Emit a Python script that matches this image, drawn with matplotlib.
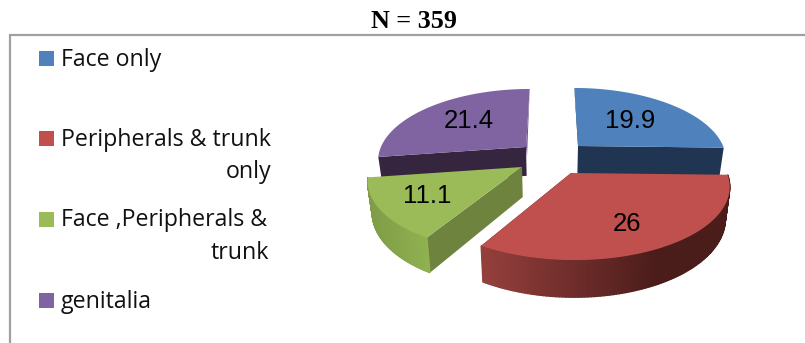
import numpy as np
import matplotlib
matplotlib.use('Agg')
import matplotlib.pyplot as plt
from matplotlib.patches import Rectangle
from matplotlib.colors import to_rgb

title = 'N = 359'
labels = ['Face only', 'Peripherals & trunk\nonly', 'Face ,Peripherals &\ntrunk', 'genitalia']
values = [19.9, 26, 11.1, 21.4]

top_colors = ['#4f81bd', '#c0504d', '#9bbb59', '#8064a2']
cut_colors = ['#1f3552', '#4a1d1b', '#6d833e', '#36253f']
wall_left = ['#1f3552', '#96403d', '#7f9d46', '#36253f']
wall_right = ['#1f3552', '#4a1c1a', '#90b151', '#36253f']

# apex of each exploded slice on the canvas, and its size factor
apex_x = [578, 571, 522, 526]
apex_y = [146, 173, 167, 147]
scale = [0.93, 1.0, 0.97, 0.93]
label_x = [630, 627, 427, 469]
label_y = [121, 224, 196, 121]
legend_y = [58, 138, 219, 300]

RX, RY = 156.0, 72.7
K = 0.165
DEPTH = 31.0
VX = 552.0


def project(i, theta, bottom=False):
    # clockwise angle from the back of the pie, with simple perspective
    u = np.sin(theta)
    v = np.cos(theta)
    w = 1 + K * v
    x = VX + (apex_x[i] - VX + scale[i] * RX * u) / w
    y = apex_y[i] - scale[i] * RY * v / w
    if bottom:
        x = VX + (x - VX) * 0.975
        y = y + scale[i] * DEPTH / w
    return x, y


def apex(i, bottom=False):
    if bottom:
        return VX + (apex_x[i] - VX) * 0.975, apex_y[i] + scale[i] * DEPTH
    return apex_x[i], apex_y[i]


def mix(a, b, t):
    a = np.array(to_rgb(a))
    b = np.array(to_rgb(b))
    return tuple(a + (b - a) * t)


fig = plt.figure(figsize=(8.05, 3.43), dpi=100)
ax = fig.add_axes([0, 0, 1, 1])
ax.set_xlim(0, 805)
ax.set_ylim(343, 0)
ax.axis('off')

# frame, open on the right and bottom
ax.plot([9.5, 9.5, 805], [343, 34.5, 34.5], color='#a0a0a0', lw=1.6, solid_joinstyle='miter')

ax.text(414, 22, title, family='Liberation Serif', weight='bold', fontsize=18.8, ha='center', va='center')

# legend
for lab, col, y in zip(labels, top_colors, legend_y):
    ax.add_patch(Rectangle((39, y - 7.5), 15, 15, fc=col, ec='none'))
    parts = lab.split('\n')
    ax.text(61, y + 1.5, parts[0], family='Open Sans', fontsize=16.7, ha='left', va='center', color='#111111')
    if len(parts) > 1:
        right = 271 if parts[1] == 'only' else 269
        ax.text(right, y + 34, parts[1], family='Open Sans', fontsize=16.7, ha='right', va='center', color='#111111')

# slice angles come from the values, clockwise from the back
total = sum(values)
edges = np.radians(np.concatenate([[0], np.cumsum(values)]) / total * 360)

for i in [3, 0, 2, 1]:
    t0, t1 = edges[i], edges[i + 1]
    ts = np.linspace(t0, t1, 120)
    z = 2 + [3, 0, 2, 1].index(i)

    # cut face that looks at the viewer
    cut_t = t1 if i in (0, 1) else t0

    a_top = apex(i)
    a_bot = apex(i, True)
    p_top = project(i, cut_t)
    p_bot = project(i, cut_t, True)
    ax.fill([a_top[0], p_top[0], p_bot[0], a_bot[0]], [a_top[1], p_top[1], p_bot[1], a_bot[1]],
            color=cut_colors[i], lw=0, zorder=z)

    # thin inner wall on the slices next to the back gap
    if i == 0:
        p_top2 = project(i, t0)
        ax.fill([a_top[0], p_top2[0], a_top[0] + 2], [a_top[1], p_top2[1], a_top[1] + 10],
                color=cut_colors[i], lw=0, zorder=z)
    if i == 3:
        p_top2 = project(i, t1)
        ax.fill([a_top[0], p_top2[0], a_top[0] + 1], [a_top[1], p_top2[1], a_top[1] + 10],
                color='#6a5388', lw=0, zorder=z)

    # outer wall as narrow quads so the shading can change along it
    front = ts[np.cos(ts) < 0.05]
    if i in (1, 2) and len(front) > 1:
        xs, ys = project(i, front)
        xb, yb = project(i, front, True)
        for j in range(len(front) - 1):
            f = (xs[j] - xs.min()) / (xs.max() - xs.min())
            if i == 1:
                c = mix(wall_left[i], wall_right[i], min(f / 0.72, 1))
            else:
                c = mix(wall_left[i], wall_right[i], f)
            ax.fill([xs[j], xs[j + 1], xb[j + 1], xb[j]], [ys[j], ys[j + 1], yb[j + 1], yb[j]],
                    fc=c, ec=c, lw=1.0, zorder=z)

    # top surface
    xs, ys = project(i, ts)
    ax.fill(np.r_[a_top[0], xs], np.r_[a_top[1], ys], color=top_colors[i], lw=0, zorder=z + 0.1)

    ax.text(label_x[i], label_y[i], f'{values[i]:g}', family='Liberation Sans', fontsize=18.5,
            ha='center', va='center', color='black', zorder=20)

fig.savefig('out.png', dpi=100)
